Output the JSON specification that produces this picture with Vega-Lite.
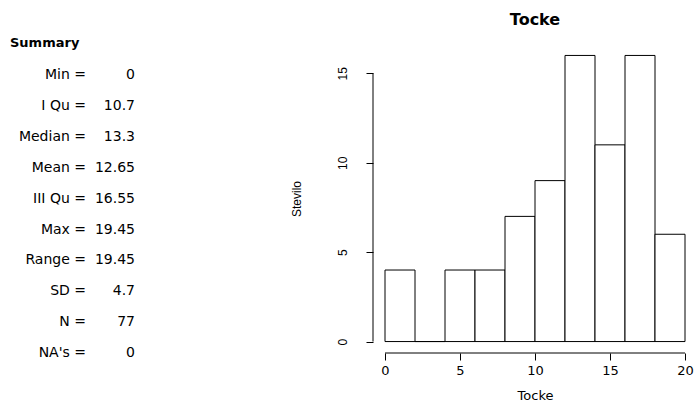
{
  "$schema": "https://vega.github.io/schema/vega-lite/v6.json",
  "padding": {"top": 12, "left": 0, "right": 0, "bottom": 0},
  "spacing": 154,
  "background": "white",
  "config": {"view": {"stroke": null}, "font": "DejaVu Sans"},
  "hconcat": [
    {
      "width": 135,
      "height": 309,
      "title": {"text": "Summary", "anchor": "start", "font": "DejaVu Sans", "fontSize": 13, "fontWeight": "bold", "offset": -6, "dx": 10, "color": "black"},
      "data": {"values": [
        {"stat": "Min", "label": "Min =", "value": "0"},
        {"stat": "I Qu", "label": "I Qu =", "value": "10.7"},
        {"stat": "Median", "label": "Median =", "value": "13.3"},
        {"stat": "Mean", "label": "Mean =", "value": "12.65"},
        {"stat": "III Qu", "label": "III Qu =", "value": "16.55"},
        {"stat": "Max", "label": "Max =", "value": "19.45"},
        {"stat": "Range", "label": "Range =", "value": "19.45"},
        {"stat": "SD", "label": "SD =", "value": "4.7"},
        {"stat": "N", "label": "N =", "value": "77"},
        {"stat": "NA's", "label": "NA's =", "value": "0"}
      ]},
      "transform": [{"fold": ["label", "value"], "as": ["col", "txt"]}],
      "mark": {"type": "text", "align": "right", "baseline": "middle", "font": "DejaVu Sans", "fontSize": 14, "color": "black"},
      "encoding": {
        "x": {"field": "col", "type": "nominal", "scale": {"type": "point", "domain": ["label", "value"], "padding": 0.878, "align": 1}, "axis": null},
        "y": {"field": "stat", "type": "nominal", "scale": {"type": "point", "domain": ["Min", "I Qu", "Median", "Mean", "III Qu", "Max", "Range", "SD", "N", "NA's"], "padding": 0.509, "align": 1}, "axis": null},
        "text": {"field": "txt"}
      }
    },
    {
      "width": 324,
      "height": 309,
      "title": {"text": "Tocke", "font": "DejaVu Sans", "fontSize": 16, "fontWeight": "bold", "offset": 16, "color": "black"},
      "layer": [
        {
          "data": {"values": [
            {"bin_start": 0, "bin_end": 2, "count": 4},
            {"bin_start": 2, "bin_end": 4, "count": 0},
            {"bin_start": 4, "bin_end": 6, "count": 4},
            {"bin_start": 6, "bin_end": 8, "count": 4},
            {"bin_start": 8, "bin_end": 10, "count": 7},
            {"bin_start": 10, "bin_end": 12, "count": 9},
            {"bin_start": 12, "bin_end": 14, "count": 16},
            {"bin_start": 14, "bin_end": 16, "count": 11},
            {"bin_start": 16, "bin_end": 18, "count": 16},
            {"bin_start": 18, "bin_end": 20, "count": 6}
          ]},
          "mark": {"type": "rect", "fill": "white", "stroke": "black", "strokeWidth": 1},
          "encoding": {
            "x": {"field": "bin_start", "type": "quantitative",
              "scale": {"domain": [-0.8, 20.8], "nice": false, "zero": false},
              "axis": {"values": [0, 5, 10, 15, 20], "domain": false, "grid": false, "tickSize": 7, "tickColor": "black",
                "labelFont": "DejaVu Sans", "labelFontSize": 13, "labelColor": "black", "labelPadding": 4, "labelFlush": false,
                "title": "Tocke", "titleFont": "DejaVu Sans", "titleFontSize": 13, "titleFontWeight": "normal", "titleColor": "black", "titlePadding": 12}},
            "x2": {"field": "bin_end"},
            "y": {"field": "count", "type": "quantitative",
              "scale": {"domain": [-0.64, 16.64], "nice": false, "zero": false},
              "axis": {"values": [0, 5, 10, 15], "domain": false, "grid": false, "tickSize": 7, "tickColor": "black",
                "labelFontSize": 12, "labelFont": "Liberation Sans", "labelColor": "black", "labelAngle": -90, "labelAlign": "center", "labelBaseline": "alphabetic", "labelPadding": 20,
                "title": "Stevilo", "titleFont": "Liberation Sans", "titleFontSize": 12, "titleFontWeight": "normal", "titleColor": "black", "titlePadding": 33}},
            "y2": {"datum": 0}
          }
        },
        {
          "data": {"values": [{"axis": "y", "x": -0.8, "from": 0, "to": 15}]},
          "mark": {"type": "rule", "color": "black", "strokeWidth": 1},
          "encoding": {"x": {"field": "x", "type": "quantitative"}, "y": {"field": "from", "type": "quantitative"}, "y2": {"field": "to"}}
        },
        {
          "data": {"values": [{"axis": "x", "y": -0.64, "from": 0, "to": 20}]},
          "mark": {"type": "rule", "color": "black", "strokeWidth": 1},
          "encoding": {"y": {"field": "y", "type": "quantitative"}, "x": {"field": "from", "type": "quantitative"}, "x2": {"field": "to"}}
        }
      ]
    }
  ]
}
